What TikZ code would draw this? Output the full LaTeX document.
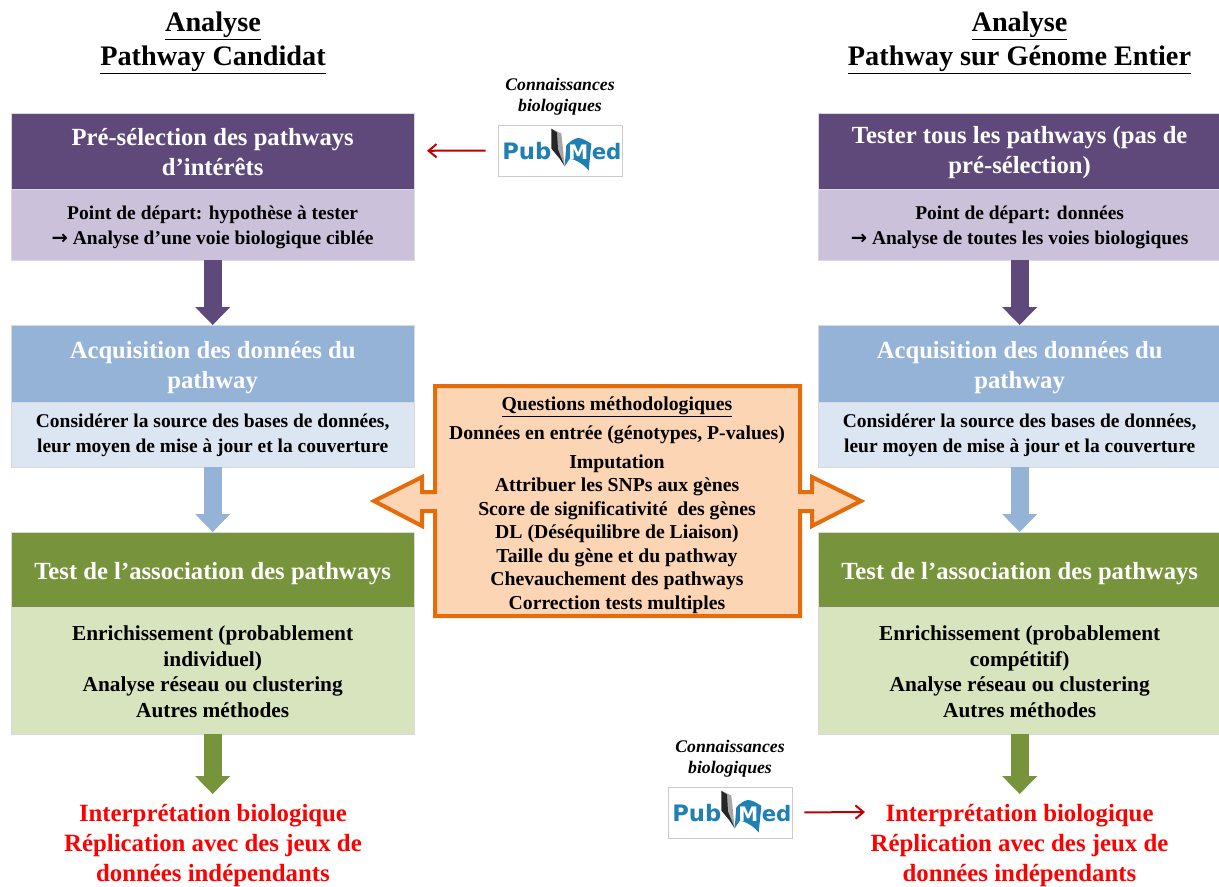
\documentclass[tikz,border=0pt]{standalone}
\usepackage{fontspec}
\setmainfont{Liberation Serif}
\newfontfamily\logofont{DejaVu Sans}
\usetikzlibrary{arrows.meta}
\definecolor{purpledark}{HTML}{5F497A}
\definecolor{purplelight}{HTML}{CCC1DA}
\definecolor{bluedark}{HTML}{95B3D7}
\definecolor{bluelight}{HTML}{DCE6F2}
\definecolor{greendark}{HTML}{77933C}
\definecolor{greenlight}{HTML}{D7E4BD}
\definecolor{orangeline}{HTML}{E46C0A}
\definecolor{orangefill}{HTML}{FCD5B5}
\definecolor{arrowred}{HTML}{C00000}
\definecolor{pubblue}{HTML}{2080B4}
\newcommand{\lifttext}[1]{\rule{0pt}{#1}}
\tikzset{
    boxbase/.style={anchor=north west, minimum width=302.25pt, inner sep=0pt, align=center, font=\bfseries, draw=gray!30, line width=.25pt},
    headbox/.style={boxbase, text=white, font=\fontsize{18.5}{22.5}\selectfont\bfseries},
    bodybox/.style={boxbase, text=black, font=\fontsize{14.6}{18.6}\selectfont\bfseries},
    methbox/.style={boxbase, text=black, font=\fontsize{16}{19.2}\selectfont\bfseries},
    titlenode/.style={align=center, inner sep=0pt, font=\fontsize{21.2}{25}\selectfont\bfseries},
    rednode/.style={align=center, inner sep=0pt, text=red, font=\fontsize{18.6}{22.5}\selectfont\bfseries},
    knownode/.style={align=center, inner sep=0pt, font=\fontsize{13.3}{16}\selectfont\bfseries\itshape},
    logonode/.style={draw=gray!40, fill=white, line width=.5pt, minimum width=93pt, minimum height=38pt, inner sep=0pt},
    blockarrow/.style={line width=13.5pt, -{Triangle[length=13.5pt,width=25.5pt]}},
    pubarrow/.style={line width=1.5pt, arrowred, -{Straight Barb[length=6pt,width=10pt]}},
    pubmedlogo/.pic={
        \node[inner sep=0pt, anchor=base west, text=pubblue, font=\logofont\fontsize{17}{18}\selectfont\bfseries] at (-58,8.5) {Pub};
        \fill[gray!70] (-8.7,-21.8) -- (1.3,-17) -- (3,-1) -- (4.7,15.8) -- (-4,-2) -- cycle;
        \fill[black!85] (-8.7,-21.8) -- (-3,-18) -- (-2,-1) -- (4.7,15.8) -- (-0.3,8.2) -- (-8.7,-2) -- cycle;
        \fill[pubblue] (6.3,-5.2) .. controls (10,-9) and (14,-12) .. (18,-12.5) .. controls (23,-12.5) and (27,-9) .. (31.3,-6.8) -- (28.7,20) .. controls (24,14) and (16,9) .. (9.7,8.2) -- (4.7,15.8) -- cycle;
        \node[inner sep=0pt, anchor=base, text=white, font=\logofont\fontsize{15}{15}\selectfont\bfseries] at (18.4,8.5) {M};
        \node[inner sep=0pt, anchor=base west, text=pubblue, font=\logofont\fontsize{16}{16}\selectfont\bfseries] at (31.5,8.5) {ed};
    }
}
\begin{document}
\begin{tikzpicture}[x=.75pt,y=-.75pt]
    \useasboundingbox (0,0) rectangle (1219,886);

    \node[titlenode] (titleA) at (213,43) {\underline{Analyse}\\\underline{Pathway Candidat}};
    \node[titlenode] (titleB) at (1019.5,43) {\underline{Analyse}\\\underline{Pathway sur Génome Entier}};

    \node[headbox, fill=purpledark, minimum height=57pt] (headA) at (11,113) {\lifttext{14.3pt}Pré-sélection des pathways\\d’intérêts};
    \node[bodybox, fill=purplelight, minimum height=53pt] (startA) at (11,189) {\lifttext{13.9pt}Point de départ: hypothèse à tester\\{\logofont →} Analyse d’une voie biologique ciblée};
    \node[headbox, fill=bluedark, minimum height=57.75pt] (acqA) at (11,325) {\lifttext{18.8pt}Acquisition des données du\\pathway};
    \node[bodybox, fill=bluelight, minimum height=48.75pt] (srcA) at (11,402) {\lifttext{11.6pt}Considérer la source des bases de données,\\leur moyen de mise à jour et la couverture};
    \node[headbox, fill=greendark, minimum height=56.25pt] (testA) at (11,532) {\lifttext{18.8pt}Test de l’association des pathways};
    \node[methbox, fill=greenlight, minimum height=95.25pt] (methA) at (11,607) {\lifttext{12.5pt}Enrichissement (probablement\\individuel)\\Analyse réseau ou clustering\\Autres méthodes};
    \node[rednode] (interA) at (213,846) {Interprétation biologique\\Réplication avec des jeux de\\données indépendants};

    \node[headbox, fill=purpledark, minimum height=57pt] (headB) at (818,113) {\lifttext{14.3pt}Tester tous les pathways (pas de\\pré-sélection)};
    \node[bodybox, fill=purplelight, minimum height=53pt] (startB) at (818,189) {\lifttext{13.9pt}Point de départ: données\\{\logofont →} Analyse de toutes les voies biologiques};
    \node[headbox, fill=bluedark, minimum height=57.75pt] (acqB) at (818,325) {\lifttext{18.8pt}Acquisition des données du\\pathway};
    \node[bodybox, fill=bluelight, minimum height=48.75pt] (srcB) at (818,402) {\lifttext{11.6pt}Considérer la source des bases de données,\\leur moyen de mise à jour et la couverture};
    \node[headbox, fill=greendark, minimum height=56.25pt] (testB) at (818,532) {\lifttext{18.8pt}Test de l’association des pathways};
    \node[methbox, fill=greenlight, minimum height=95.25pt] (methB) at (818,607) {\lifttext{12.5pt}Enrichissement (probablement\\compétitif)\\Analyse réseau ou clustering\\Autres méthodes};
    \node[rednode] (interB) at (1019.5,846) {Interprétation biologique\\Réplication avec des jeux de\\données indépendants};
    \coordinate (interBw) at (865,812);
    \coordinate (tipA) at (methA.south |- 0,794);
    \coordinate (tipB) at (methB.south |- 0,794);

    \draw[blockarrow, purpledark] (startA.south) -- (acqA.north);
    \draw[blockarrow, bluedark] (srcA.south) -- (testA.north);
    \draw[blockarrow, greendark] (methA.south) -- (tipA);
    \draw[blockarrow, purpledark] (startB.south) -- (acqB.north);
    \draw[blockarrow, bluedark] (srcB.south) -- (testB.north);
    \draw[blockarrow, greendark] (methB.south) -- (tipB);

    \draw[orangeline, fill=orangefill, line width=3pt, line join=miter]
        (435,386) -- (800,386) -- (800,492) -- (812,492) -- (812,477) -- (861,501) -- (812,526) -- (812,511) -- (800,511) -- (800,616)
        -- (435,616) -- (435,511) -- (422,511) -- (422,526) -- (374,501) -- (422,477) -- (422,492) -- (435,492) -- cycle;
    \node[align=center, inner sep=0pt, font=\fontsize{14.8}{17.6}\selectfont\bfseries] (questions) at (617,505) {\underline{Questions méthodologiques}\\[4.5pt]Données en entrée (génotypes, P-values)\\[4pt]Imputation\\Attribuer les SNPs aux gènes\\Score de significativité\ \ des gènes\\DL (Déséquilibre de Liaison)\\Taille du gène et du pathway\\Chevauchement des pathways\\Correction tests multiples};

    \node[knownode] (knowA) at (560,97) {Connaissances\\biologiques};
    \node[logonode] (pubA) at (560,150.5) {};
    \pic at (pubA) {pubmedlogo};
    \node[knownode] (knowB) at (730,759) {Connaissances\\biologiques};
    \node[logonode] (pubB) at (730,812.5) {};
    \pic at (pubB) {pubmedlogo};

    \draw[pubarrow, shorten <=9pt, shorten >=9.5pt] (pubA) -- (headA);
    \draw[pubarrow, shorten <=9pt] (pubB.east) -- (interBw);
\end{tikzpicture}
\end{document}
